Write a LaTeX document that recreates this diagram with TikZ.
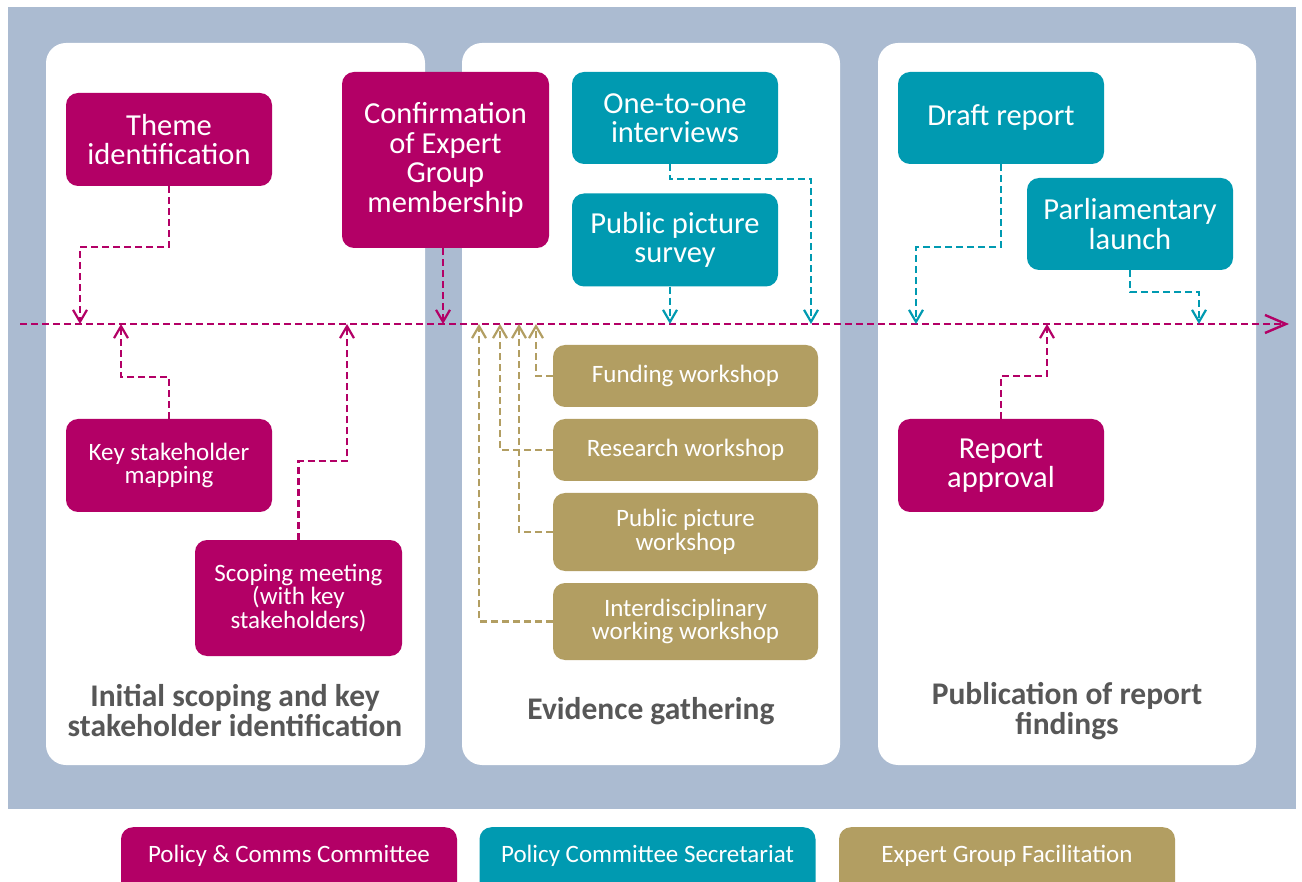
\documentclass[tikz,border=0pt]{standalone}
\usepackage{fontspec}
\setmainfont{Carlito}
\usetikzlibrary{arrows.meta,positioning}
\definecolor{pccol}{HTML}{B30066}
\definecolor{pcscol}{HTML}{009AB1}
\definecolor{egfcol}{HTML}{B29E62}
\definecolor{bgcol}{HTML}{ABBBD1}
\definecolor{stagecol}{HTML}{575757}

\begin{document}
\begin{tikzpicture}[
    x=1pt, y=-1pt,
    panel/.style={fill=white, rounded corners=20pt},
    box/.style={rectangle, rounded corners=12pt, text=white, align=center, inner sep=0},
    bigtxt/.style={font=\fontsize{30.5}{29.5}\selectfont},
    smalltxt/.style={font=\fontsize{25}{23.5}\selectfont},
    stagetxt/.style={font=\fontsize{31.5}{30}\selectfont\bfseries, text=stagecol, align=center, inner sep=0},
    pcc/.style={box, fill=pccol},
    pcs/.style={box, fill=pcscol},
    egf/.style={box, fill=egfcol},
    legend/.style={smalltxt, anchor=north, minimum width=336pt, minimum height=80pt, text height=12pt, text depth=22pt},
    link/.style={draw, line width=2.5pt, dash pattern=on 7pt off 4pt, -{Straight Barb[length=12pt,width=14pt,line width=2.2pt]}},
    pclink/.style={link, pccol},
    pcslink/.style={link, pcscol},
    egflink/.style={link, egfcol},
    timeline/.style={draw=pccol, line width=2.5pt, dash pattern=on 7pt off 4pt, -{Straight Barb[length=21pt,width=18pt,line width=2.4pt]}}]

\useasboundingbox (0,0) rectangle (1302,882);
\fill[white] (0,0) rectangle (1302,882);
\fill[bgcol] (8,7) rectangle (1296,809);
\path[panel] (46,43) rectangle (425,765);
\path[panel] (462,43) rectangle (840,765);
\path[panel] (878,43) rectangle (1256,765);

\node[stagetxt] (stage1) at (235,711) {Initial scoping and key\\stakeholder identification};
\node[stagetxt] (stage2) at (651,711) {Evidence gathering};
\node[stagetxt] (stage3) at (1067,711) {Publication of report\\findings};

\coordinate (tlstart) at (20,324);
\coordinate (tlend) at (1289,324);
\path[timeline] (tlstart) -- (tlend);
\foreach \x in {80,121,347,443,479,500,519,536,670,811,916,1047,1199}
    \coordinate (t\x) at (\x,324);

\node[pcc, bigtxt, minimum width=206pt, minimum height=93pt] (theme) at (169,139.5) {Theme\\identification};
\node[pcc, smalltxt, minimum width=206pt, minimum height=93pt] (mapping) at (169,465.5) {Key stakeholder\\mapping};
\node[pcc, smalltxt, minimum width=207pt, minimum height=116pt] (scoping) at (298.5,598) {Scoping meeting\\(with key\\stakeholders)};
\node[pcc, bigtxt, minimum width=207pt, minimum height=176pt] (confirm) at (445.5,160) {Confirmation\\of Expert\\Group\\membership};

\node[pcs, bigtxt, minimum width=206pt, minimum height=92pt] (interviews) at (675,118) {One-to-one\\interviews};
\node[pcs, bigtxt, minimum width=206pt, minimum height=93pt] (survey) at (675,240) {Public picture\\survey};
\node[egf, smalltxt, minimum width=265pt, minimum height=62pt] (funding) at (685.5,376) {Funding workshop};
\node[egf, smalltxt, minimum width=265pt, minimum height=62pt] (research) at (685.5,450) {Research workshop};
\node[egf, smalltxt, minimum width=265pt, minimum height=78pt] (ppworkshop) at (685.5,532) {Public picture\\workshop};
\node[egf, smalltxt, minimum width=265pt, minimum height=77pt] (interdisc) at (685.5,621.5) {Interdisciplinary\\working workshop};

\node[pcs, bigtxt, minimum width=206pt, minimum height=92pt] (draft) at (1001,118) {Draft report};
\node[pcs, bigtxt, minimum width=206pt, minimum height=92pt] (launch) at (1130,224) {Parliamentary\\launch};
\node[pcc, bigtxt, minimum width=206pt, minimum height=93pt] (approval) at (1001,465.5) {Report\\approval};

\path[pclink] (theme.south) -- ++(0,61) -| (t80);
\path[pclink] (mapping.north) -- ++(0,-42) -| (t121);
\path[pclink] (scoping.north) -- ++(0,-79) -| (t347);
\path[pclink] (confirm.south -| t443) -- (t443);
\path[pcslink] (interviews.south -| t670) -- ++(0,15) -| (t811);
\path[pcslink] (survey.south -| t670) -- (t670);
\path[egflink] (funding.west) -| (t536);
\path[egflink] (research.west) -| (t500);
\path[egflink] (ppworkshop.west) -| (t519);
\path[egflink] (interdisc.west) -| (t479);
\path[pcslink] (draft.south) -- ++(0,83) -| (t916);
\path[pcslink] (launch.south) -- ++(0,22) -| (t1199);
\path[pclink] (approval.north) -- ++(0,-43) -| (t1047);

\node[pcc, legend] (legpc) at (289,827) {Policy \& Comms Committee};
\node[pcs, legend] (legpcs) at (647.5,827) {Policy Committee Secretariat};
\node[egf, legend] (legegf) at (1007,827) {Expert Group Facilitation};

\end{tikzpicture}
\end{document}
